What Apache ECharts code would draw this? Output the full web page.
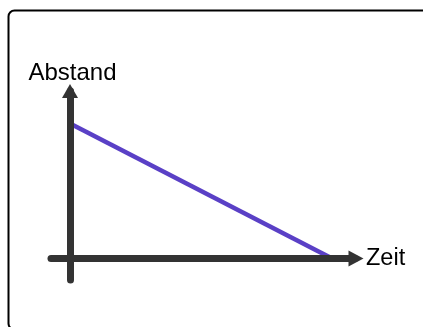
<!DOCTYPE html>
<html>
<head>
<meta charset="utf-8">
<script src="https://cdn.jsdelivr.net/npm/echarts@6/dist/echarts.min.js"></script>
<style>
  html, body { margin: 0; padding: 0; background: #fff; }
  #chart { width: 423px; height: 327px; }
</style>
</head>
<body>
<div id="chart"></div>
<script>
// Values: distance falls linearly to zero over time.
const zeit = [0, 13.8];
const abstand = [7.25, 0];
const axisNames = { x: 'Zeit', y: 'Abstand' };

const axisColor = '#333333';
const lineColor = '#5a40c6';
const font = 'Liberation Sans, Arial, sans-serif';

const chart = echarts.init(document.getElementById('chart'), null, { renderer: 'canvas' });

chart.setOption({
  animation: false,
  backgroundColor: '#fff',
  grid: { left: 51, right: 68, top: 91, bottom: 47 },
  graphic: [{
    // frame around the sketch, cut off on the right and bottom
    type: 'rect',
    left: 6, top: 8,
    shape: { width: 600, height: 319, r: 6 },
    style: { fill: 'none', stroke: '#000', lineWidth: 2 },
    silent: true
  }],
  xAxis: {
    type: 'value',
    min: -1,
    max: 15,
    z: 5,
    name: axisNames.x,
    nameLocation: 'end',
    nameGap: 11,
    nameTextStyle: { color: '#000', fontSize: 23.5, fontFamily: font, verticalAlign: 'middle' },
    axisLine: {
      onZero: true,
      symbol: ['none', 'triangle'],
      symbolSize: [16, 15],
      symbolOffset: [0, 1],
      lineStyle: { color: axisColor, width: 7 }
    },
    axisTick: { show: false },
    axisLabel: { show: false },
    splitLine: { show: false }
  },
  yAxis: {
    type: 'value',
    min: -1.15,
    max: 9,
    z: 5,
    name: axisNames.y,
    nameLocation: 'end',
    nameGap: 6,
    nameTextStyle: { color: '#000', fontSize: 24, fontFamily: font, padding: [0, 0, 0, 5] },
    axisLine: {
      onZero: true,
      symbol: ['none', 'triangle'],
      symbolSize: [16, 14],
      lineStyle: { color: axisColor, width: 7 }
    },
    axisTick: { show: false },
    axisLabel: { show: false },
    splitLine: { show: false }
  },
  series: [{
    type: 'line',
    data: zeit.map((t, i) => [t, abstand[i]]),
    symbol: 'none',
    lineStyle: { color: lineColor, width: 4.5 },
    z: 2
  }]
});
</script>
</body>
</html>
